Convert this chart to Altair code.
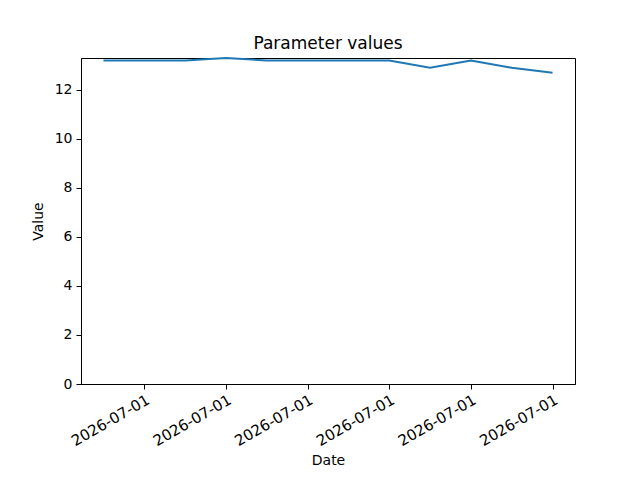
import altair as alt
import pandas as pd

hours = [1, 2, 3, 4, 5, 6, 7, 8, 9, 10, 11, 12]
values = [13.2, 13.2, 13.2, 13.3, 13.2, 13.2, 13.2, 13.2, 12.9, 13.2, 12.9, 12.7]
tick_hours = [2, 4, 6, 8, 10, 12]

df = pd.DataFrame({
    "Date": [f"2026-07-01T{h:02d}:00:00" for h in hours],
    "Value": values,
})

font = "DejaVu Sans"

x_axis = alt.Axis(
    values=[alt.DateTime(year=2026, month=7, date=1, hours=h) for h in tick_hours],
    format="%Y-%m-%d",
    labelAngle=-30,
    labelAlign="right",
    labelBaseline="top",
    labelOverlap=False,
    grid=False,
    tickSize=5,
    tickColor="black",
    domainColor="black",
    labelColor="black",
    labelFont=font,
    labelFontSize=15,
    labelPadding=3,
    titleFont=font,
    titleFontSize=14,
    titleFontWeight="normal",
    titleColor="black",
    titlePadding=5,
)

y_axis = alt.Axis(
    values=[0, 2, 4, 6, 8, 10, 12],
    grid=False,
    tickSize=5,
    tickColor="black",
    domainColor="black",
    labelColor="black",
    labelFont=font,
    labelFontSize=14,
    labelPadding=4,
    titleFont=font,
    titleFontSize=14,
    titleFontWeight="normal",
    titleColor="black",
    titlePadding=9,
)

chart = alt.Chart(df).mark_line(color="#1f77b4", strokeWidth=2).encode(
    x=alt.X(
        "Date:T",
        title="Date",
        axis=x_axis,
        scale=alt.Scale(domain=[
            alt.DateTime(year=2026, month=7, date=1, hours=0, minutes=27),
            alt.DateTime(year=2026, month=7, date=1, hours=12, minutes=33),
        ]),
    ),
    y=alt.Y(
        "Value:Q",
        title="Value",
        axis=y_axis,
        scale=alt.Scale(domain=[0, 13.3], nice=False, zero=True),
    ),
).properties(
    width=494,
    height=326,
    title=alt.TitleParams("Parameter values", font=font, fontSize=17, fontWeight="normal",
                          color="black", offset=1),
    autosize=alt.AutoSizeParams(type="none"),
    padding={"left": 73, "top": 50, "right": 57, "bottom": 88},
).configure(
    background="white",
).configure_view(
    stroke="black",
    strokeWidth=1,
)

chart.save("out.html", embed_options={"renderer": "svg", "actions": False})
